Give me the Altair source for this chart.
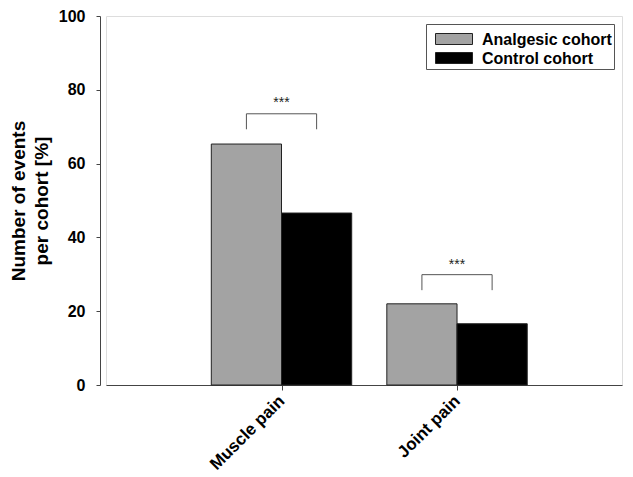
import altair as alt
import pandas as pd

categories = ["Muscle pain", "Joint pain"]
cohorts = ["Analgesic cohort", "Control cohort"]
cohort_colors = ["#a3a3a3", "#000000"]
analgesic = [65.3, 22.0]
control = [46.6, 16.6]
bracket_low = [69.3, 25.7]
bracket_high = [73.5, 29.9]
star_y = [76.5, 32.5]
stars = ["***", "***"]
y_ticks = [0, 20, 40, 60, 80, 100]

HALF = 0.4
FONT = "Liberation Sans"

rows = []
for i, cat in enumerate(categories):
    pos = i + 1
    rows.append({"cat": cat, "cohort": cohorts[0], "value": analgesic[i], "x0": pos - HALF, "x1": pos})
    rows.append({"cat": cat, "cohort": cohorts[1], "value": control[i], "x0": pos, "x1": pos + HALF})
bars_df = pd.DataFrame(rows)

br_rows = []
for i, cat in enumerate(categories):
    pos = i + 1
    br_rows.append({"cat": cat, "xl": pos - HALF / 2, "xr": pos + HALF / 2,
                    "lo": bracket_low[i], "hi": bracket_high[i], "sy": star_y[i],
                    "xc": pos, "txt": stars[i]})
br_df = pd.DataFrame(br_rows)

label_expr = "datum.value == 1 ? '%s' : (datum.value == 2 ? '%s' : '')" % (categories[0], categories[1])

xscale = alt.Scale(domain=[0, 2.94], nice=False, zero=False)
yscale = alt.Scale(domain=[0, 100], nice=False)

bars = alt.Chart(bars_df).mark_bar(stroke="#222222", strokeWidth=1).encode(
    x=alt.X("x0:Q", scale=xscale, axis=alt.Axis(
        values=[1, 2], labelExpr=label_expr, title=None, grid=False,
        labelAngle=-45, labelAlign="right", labelBaseline="middle",
        labelFontSize=17, labelFontWeight="bold", labelFont=FONT, labelColor="#000000",
        labelPadding=8, tickSize=5, tickColor="#444444", domainColor="#444444",
        labelOverlap=False)),
    x2="x1:Q",
    y=alt.Y("value:Q", scale=yscale, axis=alt.Axis(
        values=y_ticks, title=["Number of events", "per cohort [%]"], grid=False,
        offset=6, tickSize=4, tickColor="#444444", domainColor="#444444",
        labelFontSize=16, labelFontWeight="bold", labelFont=FONT, labelColor="#000000",
        labelPadding=11, titleFontSize=19, titleFontWeight="bold", titleFont=FONT,
        titleColor="#000000", titlePadding=7, titleLineHeight=23)),
    y2=alt.datum(0),
    color=alt.Color("cohort:N", scale=alt.Scale(domain=cohorts, range=cohort_colors), legend=None),
)

hline = alt.Chart(br_df).mark_rule(color="#555555", strokeWidth=1).encode(
    x=alt.X("xl:Q", scale=xscale), x2="xr:Q", y=alt.Y("hi:Q", scale=yscale))
vleft = alt.Chart(br_df).mark_rule(color="#555555", strokeWidth=1).encode(
    x=alt.X("xl:Q", scale=xscale), y=alt.Y("lo:Q", scale=yscale), y2="hi:Q")
vright = alt.Chart(br_df).mark_rule(color="#555555", strokeWidth=1).encode(
    x=alt.X("xr:Q", scale=xscale), y=alt.Y("lo:Q", scale=yscale), y2="hi:Q")
txt = alt.Chart(br_df).mark_text(fontSize=14, font=FONT, color="#222222", baseline="middle").encode(
    x=alt.X("xc:Q", scale=xscale), y=alt.Y("sy:Q", scale=yscale), text="txt:N")

# legend drawn manually (box, swatches, labels)
one = pd.DataFrame({"k": [0]})
legend_layers = [
    alt.Chart(one).mark_rect(fill="white", stroke="#555555", strokeWidth=1).encode(
        x=alt.value(320.5), x2=alt.value(508.5), y=alt.value(8.5), y2=alt.value(53.5))
]
for i, name in enumerate(cohorts):
    y0 = 17 + 19 * i
    legend_layers.append(
        alt.Chart(one).mark_rect(fill=cohort_colors[i], stroke="#222222", strokeWidth=1).encode(
            x=alt.value(329.5), x2=alt.value(366.5), y=alt.value(y0 + 0.5), y2=alt.value(y0 + 11.5)))
    legend_layers.append(
        alt.Chart(one).mark_text(align="left", baseline="middle", fontSize=16, fontWeight="bold",
                                 font=FONT, color="#000000").encode(
            x=alt.value(376), y=alt.value(y0 + 6.5), text=alt.value(name)))

chart = alt.layer(bars, hline, vleft, vright, txt, *legend_layers).properties(
    width=516, height=369,
    padding={"left": 98, "top": 8, "right": 3, "bottom": 92},
    autosize=alt.AutoSizeParams(type="none"),
).configure_view(stroke=None).configure(background="white")

chart.save("out.html", embed_options={"renderer": "svg", "actions": False})
